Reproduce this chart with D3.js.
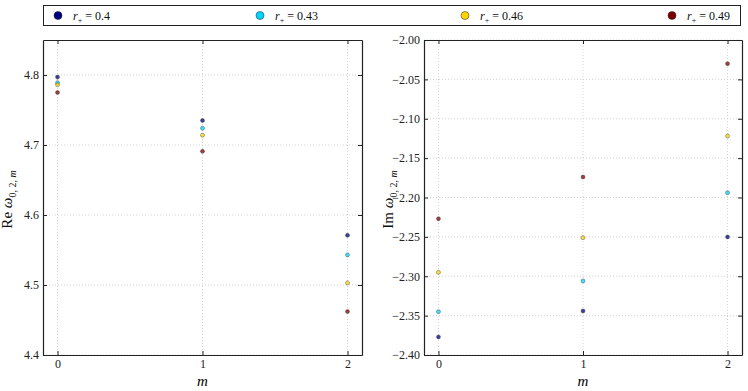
<!DOCTYPE html>
<html>
<head>
<meta charset="utf-8">
<script src="https://cdn.jsdelivr.net/npm/d3@7"></script>
<style>
  body { margin: 0; background: #fff; }
  svg { font-family: "Liberation Serif", "DejaVu Serif", serif; }
</style>
</head>
<body>
<div id="chart"></div>
<script>
// data
var mValues = [0, 1, 2];
var radii = ["0.4", "0.43", "0.46", "0.49"];
var colors = ["#00007f", "#00d4ff", "#ffd400", "#7f0000"];

var reOmega_04  = [4.797, 4.735, 4.571];
var reOmega_043 = [4.789, 4.724, 4.543];
var reOmega_046 = [4.786, 4.714, 4.503];
var reOmega_049 = [4.775, 4.691, 4.462];

var imOmega_04  = [-2.377, -2.344, -2.250];
var imOmega_043 = [-2.345, -2.306, -2.194];
var imOmega_046 = [-2.295, -2.251, -2.122];
var imOmega_049 = [-2.227, -2.174, -2.030];

var reTicks = [4.4, 4.5, 4.6, 4.7, 4.8];
var imTicks = [-2.40, -2.35, -2.30, -2.25, -2.20, -2.15, -2.10, -2.05, -2.00];
var xTicks = [0, 1, 2];

var W = 748, H = 391;
var svg = d3.select("#chart").append("svg")
  .attr("width", W).attr("height", H);

var plotTop = 40, plotBottom = 355;

function drawPanel(left, right, yDomain, yTicks, fmt, series, label) {
  var x = d3.scaleLinear().domain([-0.1, 2.1]).range([left, right]);
  var y = d3.scaleLinear().domain(yDomain).range([plotBottom, plotTop]);
  var g = svg.append("g");

  // grid
  g.selectAll(".gx").data(xTicks).enter().append("line")
    .attr("x1", function(d){ return x(d); }).attr("x2", function(d){ return x(d); })
    .attr("y1", plotTop).attr("y2", plotBottom)
    .attr("stroke", "#c8c8c8").attr("stroke-width", 0.8).attr("stroke-dasharray", "1,2");
  g.selectAll(".gy").data(yTicks).enter().append("line")
    .attr("x1", left).attr("x2", right)
    .attr("y1", function(d){ return y(d); }).attr("y2", function(d){ return y(d); })
    .attr("stroke", "#c8c8c8").attr("stroke-width", 0.8).attr("stroke-dasharray", "1,2");

  // axes (ticks inside, all sides)
  g.append("g").attr("transform", "translate(0," + plotBottom + ")")
    .call(d3.axisBottom(x).tickValues(xTicks).tickSize(-4).tickSizeOuter(0).tickPadding(4).tickFormat(d3.format("d")));
  g.append("g").attr("transform", "translate(0," + plotTop + ")")
    .call(d3.axisTop(x).tickValues(xTicks).tickSize(-4).tickSizeOuter(0).tickFormat(""));
  g.append("g").attr("transform", "translate(" + left + ",0)")
    .call(d3.axisLeft(y).tickValues(yTicks).tickSize(-4).tickSizeOuter(0).tickPadding(4).tickFormat(fmt));
  g.append("g").attr("transform", "translate(" + right + ",0)")
    .call(d3.axisRight(y).tickValues(yTicks).tickSize(-4).tickSizeOuter(0).tickFormat(""));
  g.selectAll(".domain").attr("stroke", "#222").attr("stroke-width", 1.2);
  g.selectAll(".tick line").attr("stroke", "#222");
  g.selectAll(".tick text").attr("font-size", "12px").attr("fill", "#222")
    .attr("font-family", "Liberation Serif, DejaVu Serif, serif");

  // points
  series.forEach(function(vals, i) {
    g.selectAll(null).data(vals).enter().append("circle")
      .attr("cx", function(d, j){ return x(mValues[j]); })
      .attr("cy", function(d){ return y(d); })
      .attr("r", 2)
      .attr("fill", colors[i]).attr("fill-opacity", 0.75)
      .attr("stroke", "#333").attr("stroke-width", 0.4);
  });

  // x label
  svg.append("text").attr("x", (left + right) / 2).attr("y", 386)
    .attr("text-anchor", "middle").attr("font-size", "15px").attr("font-style", "italic")
    .text("m");

  // y label
  var cx = left - 31, cy = (plotTop + plotBottom) / 2 + 2;
  var t = svg.append("text")
    .attr("transform", "translate(" + cx + "," + cy + ") rotate(-90)")
    .attr("text-anchor", "middle").attr("font-size", "15px").attr("fill", "#111");
  t.append("tspan").text(label + " ");
  t.append("tspan").attr("font-style", "italic").text("ω");
  t.append("tspan").attr("font-size", "10px").attr("dy", 4).text("0, 2, ");
  t.append("tspan").attr("font-size", "10px").attr("font-style", "italic").text("m");
}

var minusFmt = function(d){ return d3.format(".2f")(d).replace("-", "\u2212"); };

drawPanel(43, 362, [4.4, 4.85], reTicks, d3.format(".1f"),
  [reOmega_04, reOmega_043, reOmega_046, reOmega_049], "Re");
drawPanel(424, 742, [-2.40, -2.00], imTicks, minusFmt,
  [imOmega_04, imOmega_043, imOmega_046, imOmega_049], "Im");

// legend
svg.append("rect").attr("x", 43.5).attr("y", 5.5).attr("width", 697).attr("height", 20)
  .attr("fill", "#fff").attr("stroke", "#222").attr("stroke-width", 1);
var legendX = [58, 260, 465, 672];
var leg = svg.selectAll(".leg").data(radii).enter().append("g")
  .attr("transform", function(d, i){ return "translate(" + legendX[i] + ",15.5)"; });
leg.append("circle").attr("r", 4).attr("fill", function(d, i){ return colors[i]; })
  .attr("stroke", "#222").attr("stroke-width", 0.5);
var lt = leg.append("text").attr("x", 15).attr("y", 4).attr("font-size", "12px").attr("fill", "#111");
lt.append("tspan").attr("font-style", "italic").text("r");
lt.append("tspan").attr("font-size", "8px").attr("dy", 3).text("+");
lt.append("tspan").attr("dy", -3).text(" = ");
lt.append("tspan").text(function(d){ return d; });
</script>
</body>
</html>
